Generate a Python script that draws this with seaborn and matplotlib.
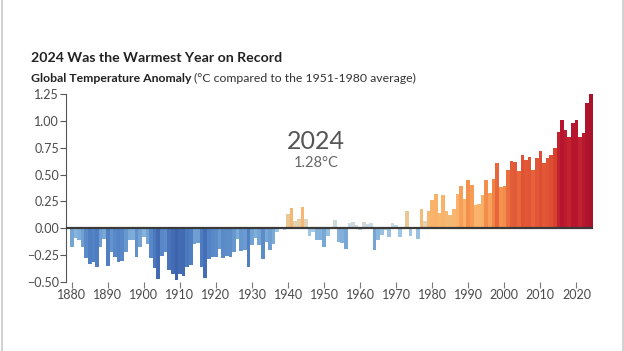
import numpy as np
import pandas as pd
import matplotlib
matplotlib.use("Agg")
import matplotlib.pyplot as plt
from matplotlib.colors import LinearSegmentedColormap, Normalize, to_hex
from matplotlib.lines import Line2D
import seaborn as sns

# Global temperature anomaly (°C vs 1951-1980)
years = list(range(1880, 2025))
anomaly = [
    -0.17, -0.09, -0.11, -0.17, -0.28, -0.33, -0.31, -0.36, -0.17, -0.10,
    -0.35, -0.22, -0.27, -0.31, -0.30, -0.22, -0.11, -0.11, -0.27, -0.17,
    -0.08, -0.15, -0.28, -0.37, -0.47, -0.26, -0.22, -0.39, -0.43, -0.48,
    -0.43, -0.44, -0.36, -0.34, -0.15, -0.14, -0.36, -0.46, -0.29, -0.27,
    -0.27, -0.19, -0.28, -0.26, -0.27, -0.22, -0.10, -0.21, -0.20, -0.36,
    -0.16, -0.09, -0.16, -0.29, -0.13, -0.20, -0.15, -0.03, -0.01, -0.02,
    0.13, 0.19, 0.07, 0.09, 0.20, 0.09, -0.07, -0.03, -0.11, -0.11,
    -0.17, -0.07, 0.01, 0.08, -0.13, -0.14, -0.19, 0.05, 0.06, 0.03,
    -0.02, 0.06, 0.04, 0.05, -0.20, -0.11, -0.06, -0.02, -0.08, 0.05,
    0.03, -0.08, 0.01, 0.16, -0.07, -0.01, -0.10, 0.18, 0.07, 0.16,
    0.26, 0.32, 0.14, 0.31, 0.16, 0.12, 0.18, 0.32, 0.39, 0.27,
    0.45, 0.40, 0.22, 0.23, 0.31, 0.45, 0.33, 0.46, 0.61, 0.38,
    0.39, 0.54, 0.63, 0.62, 0.53, 0.68, 0.64, 0.66, 0.54, 0.65,
    0.72, 0.61, 0.65, 0.68, 0.75, 0.90, 1.01, 0.92, 0.85, 0.98,
    1.01, 0.85, 0.89, 1.17, 1.28,
]
xtick_years = list(range(1880, 2021, 10))
ytick_vals = [-0.50, -0.25, 0.00, 0.25, 0.50, 0.75, 1.00, 1.25]

df = pd.DataFrame({"year": years, "anomaly": anomaly})
df["label"] = df["year"].astype(str)

# bar colour: mostly the year's value, nudged toward its local trend
smooth = df["anomaly"].rolling(5, center=True, min_periods=1).mean()
color_val = 0.7 * df["anomaly"] + 0.3 * smooth
cmap = LinearSegmentedColormap.from_list("warm", [
    (0.00, "#3a5ea9"),
    (0.10, "#4f7fc2"),
    (0.20, "#7aaad8"),
    (0.26, "#a6cbe6"),
    (0.29, "#c9dbe6"),
    (0.31, "#d9d9cf"),
    (0.335, "#e8cca0"),
    (0.36, "#f5b873"),
    (0.45, "#fbb066"),
    (0.52, "#f28a48"),
    (0.60, "#e6603a"),
    (0.70, "#d7432e"),
    (0.80, "#b9162f"),
    (1.00, "#a8102a"),
])
norm = Normalize(-0.5, 1.3)
palette = {lab: to_hex(cmap(norm(v))) for lab, v in zip(df["label"], color_val)}

sns.set_theme(style="white")
plt.rcParams["font.family"] = ["Lato", "DejaVu Sans"]

fig = plt.figure(figsize=(6.24, 3.51), dpi=100)
ax = fig.add_axes([0.1058, 0.1966, 0.8445, 0.5354])

sns.barplot(data=df, x="year", y="anomaly", hue="label", palette=palette,
            native_scale=True, legend=False, errorbar=None, saturation=1,
            width=1.0, linewidth=0, ax=ax)

ax.axhline(0, color="#3a3a3a", lw=1.6, zorder=5)
ax.set_xlim(1878.4, 2024.6)
ax.set_ylim(-0.5, 1.25)
ax.set_xticks(xtick_years)
ax.set_xticklabels([str(y) for y in xtick_years])
ax.set_yticks(ytick_vals)
ax.set_yticklabels([f"{v:.2f}".replace("-", "\u2212") for v in ytick_vals])
ax.set_xlabel("")
ax.set_ylabel("")

for s in ["top", "right", "bottom"]:
    ax.spines[s].set_visible(False)
ax.spines["left"].set_color("#555555")
ax.spines["left"].set_linewidth(0.8)
ax.tick_params(axis="y", direction="out", length=4, width=0.8, color="#555555",
               labelsize=9, labelcolor="#4a4a4a", pad=1, left=True)
ax.tick_params(axis="x", direction="out", length=4, width=0.8, color="#777777",
               labelsize=9, labelcolor="#4a4a4a", pad=1, bottom=True)

ax.text(0.474, 0.745, "2024", transform=ax.transAxes, ha="center", va="center",
        fontsize=18, color="#555555")
ax.text(0.474, 0.632, "1.28\u00b0C", transform=ax.transAxes, ha="center",
        va="center", fontsize=10.5, color="#666666")

fig.text(31 / 624, 1 - 58 / 351, "2024 Was the Warmest Year on Record",
         fontsize=10.2, fontweight="bold", color="#222222", va="center")
t = fig.text(31 / 624, 1 - 78 / 351, "Global Temperature Anomaly",
             fontsize=8.8, fontweight="bold", color="#222222", va="center")
fig.canvas.draw()
bb = t.get_window_extent()
fig.text(bb.x1 / fig.bbox.width + 0.004, 1 - 78 / 351,
         "(\u00b0C compared to the 1951-1980 average)",
         fontsize=8.8, color="#333333", va="center")

# thin frame lines at the image edges
for xf in (1.5 / 624, 622.5 / 624):
    fig.add_artist(Line2D([xf, xf], [0, 1], transform=fig.transFigure,
                          color="#c8c8c8", lw=1.2))

fig.savefig("out.png", dpi=100, facecolor="white")
